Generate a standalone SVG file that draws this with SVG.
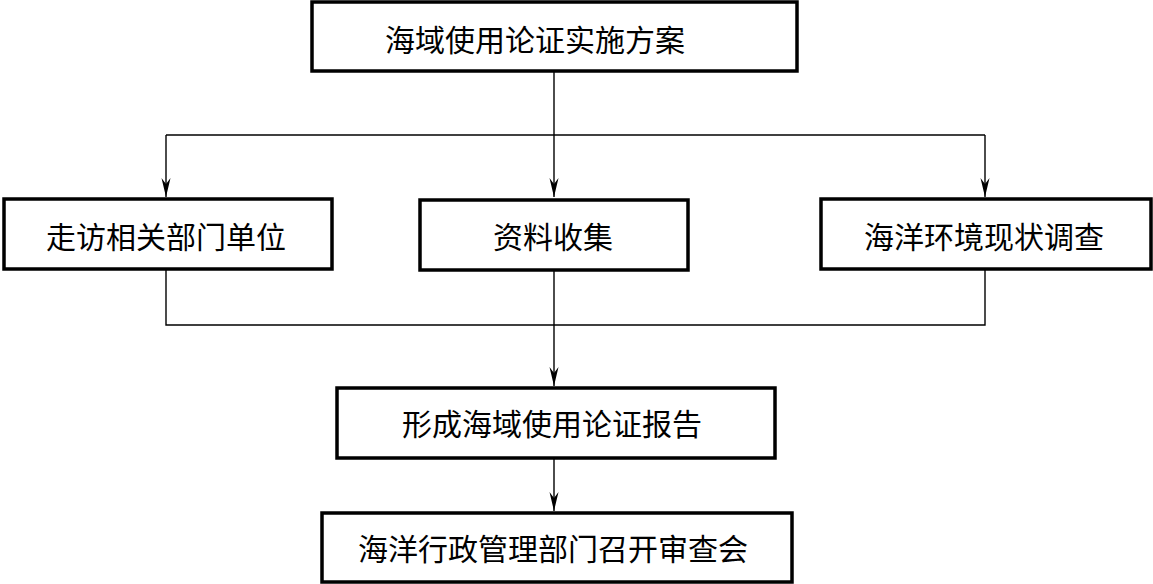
<svg xmlns="http://www.w3.org/2000/svg" width="1153" height="584" viewBox="0 0 1153 584">
<defs>
<style>
.box{fill:#fff;stroke:#000;stroke-width:3.5}
.lbl{font-family:"Liberation Serif","Noto Sans CJK SC",serif;font-size:30px;fill:#000;text-anchor:middle;dominant-baseline:central}
.ln{fill:none;stroke:#000;stroke-width:1.4}
</style>
<marker id="ah" markerUnits="userSpaceOnUse" markerWidth="22" markerHeight="12" viewBox="-20 -6 22 12" refX="0" refY="0" orient="auto">
<path d="M0,0 L-19,-4.5 L-13,0 L-19,4.5 Z" fill="#000"/>
</marker>
</defs>
<rect width="1153" height="584" fill="#fff"/>
<g id="connectors">
<line class="ln" x1="554" y1="71" x2="554" y2="197" marker-end="url(#ah)"/>
<line class="ln" x1="166" y1="135" x2="985" y2="135"/>
<line class="ln" x1="166" y1="135" x2="166" y2="197" marker-end="url(#ah)"/>
<line class="ln" x1="985" y1="135" x2="985" y2="197" marker-end="url(#ah)"/>
<polyline class="ln" points="166,269 166,325 985,325 985,269"/>
<line class="ln" x1="554" y1="270" x2="554" y2="386" marker-end="url(#ah)"/>
<line class="ln" x1="554" y1="458" x2="554" y2="511" marker-end="url(#ah)"/>
</g>
<g id="n1"><rect class="box" x="312" y="2" width="485" height="69"/><text class="lbl" x="535" y="40">海域使用论证实施方案</text></g>
<g id="n2"><rect class="box" x="4" y="199" width="328" height="70"/><text class="lbl" x="166" y="237">走访相关部门单位</text></g>
<g id="n3"><rect class="box" x="420" y="200" width="268" height="70"/><text class="lbl" x="553" y="237">资料收集</text></g>
<g id="n4"><rect class="box" x="821" y="199" width="330" height="70"/><text class="lbl" x="984" y="237">海洋环境现状调查</text></g>
<g id="n5"><rect class="box" x="337" y="388" width="438" height="70"/><text class="lbl" x="552" y="424">形成海域使用论证报告</text></g>
<g id="n6"><rect class="box" x="322" y="513" width="470" height="69"/><text class="lbl" x="553" y="549">海洋行政管理部门召开审查会</text></g>
</svg>
